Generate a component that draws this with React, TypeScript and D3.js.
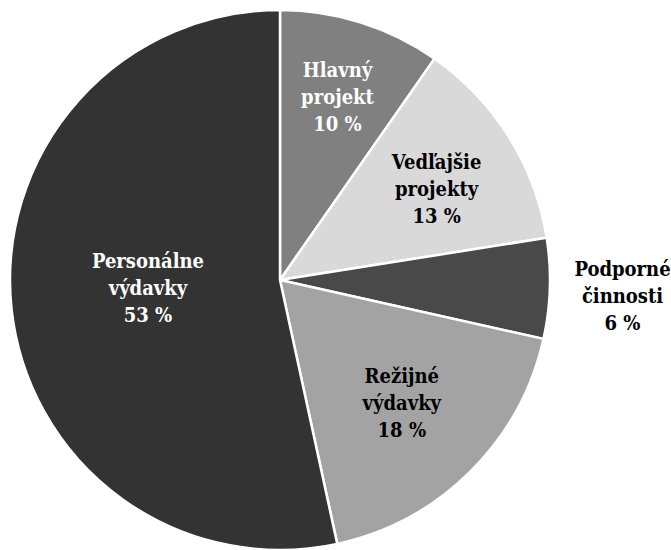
import React from "react";
import * as d3 from "d3";

const categories = ["Hlavný projekt", "Vedľajšie projekty", "Podporné činnosti", "Režijné výdavky", "Personálne výdavky"];
const values = [9.7, 12.8, 6.0, 18.1, 53.4];
const percentLabels = ["10 %", "13 %", "6 %", "18 %", "53 %"];
const labelLines = [
  ["Hlavný", "projekt"],
  ["Vedľajšie", "projekty"],
  ["Podporné", "činnosti"],
  ["Režijné", "výdavky"],
  ["Personálne", "výdavky"],
];
const colors = ["#808080", "#d9d9d9", "#494949", "#a3a3a3", "#333333"];
const textColors = ["#ffffff", "#000000", "#000000", "#000000", "#ffffff"];

const W = 671;
const H = 550;
const cx = 280;
const cy = 280;
const R = 270;
// label placement: radius fraction and small angular shift (degrees)
const labelRadius = [0.71, 0.67, 1.27, 0.64, 0.49];
const labelShift = [0, 2, 0.9, 0, 2.5];

export default function App() {
  const pie = d3.pie<number>().sort(null).value((d) => d);
  const arcs = pie(values);
  const arcGen = d3.arc<d3.PieArcDatum<number>>().innerRadius(0).outerRadius(R);
  const lineH = 27;
  return (
    <svg
      width={W}
      height={H}
      style={{ position: "absolute", left: 0, top: 0, background: "#ffffff" }}
      fontFamily="'DejaVu Serif Condensed', 'DejaVu Serif', serif"
      fontWeight="bold"
      fontSize={20}
    >
      <g transform={`translate(${cx},${cy})`}>
        {arcs.map((a, i) => (
          <path key={i} d={arcGen(a) || ""} fill={colors[i]} stroke="#ffffff" strokeWidth={2.5} strokeLinejoin="round" />
        ))}
        {arcs.map((a, i) => {
          const mid = (a.startAngle + a.endAngle) / 2 + (labelShift[i] * Math.PI) / 180;
          const r = R * labelRadius[i];
          const x = Math.sin(mid) * r;
          const y = -Math.cos(mid) * r;
          const lines = [...labelLines[i], percentLabels[i]];
          return (
            <text key={"t" + i} x={x} y={y} textAnchor="middle" fill={textColors[i]}>
              {lines.map((l, j) => (
                <tspan key={j} x={x} y={y + (j - 1) * lineH + 7}>
                  {l}
                </tspan>
              ))}
            </text>
          );
        })}
      </g>
    </svg>
  );
}
